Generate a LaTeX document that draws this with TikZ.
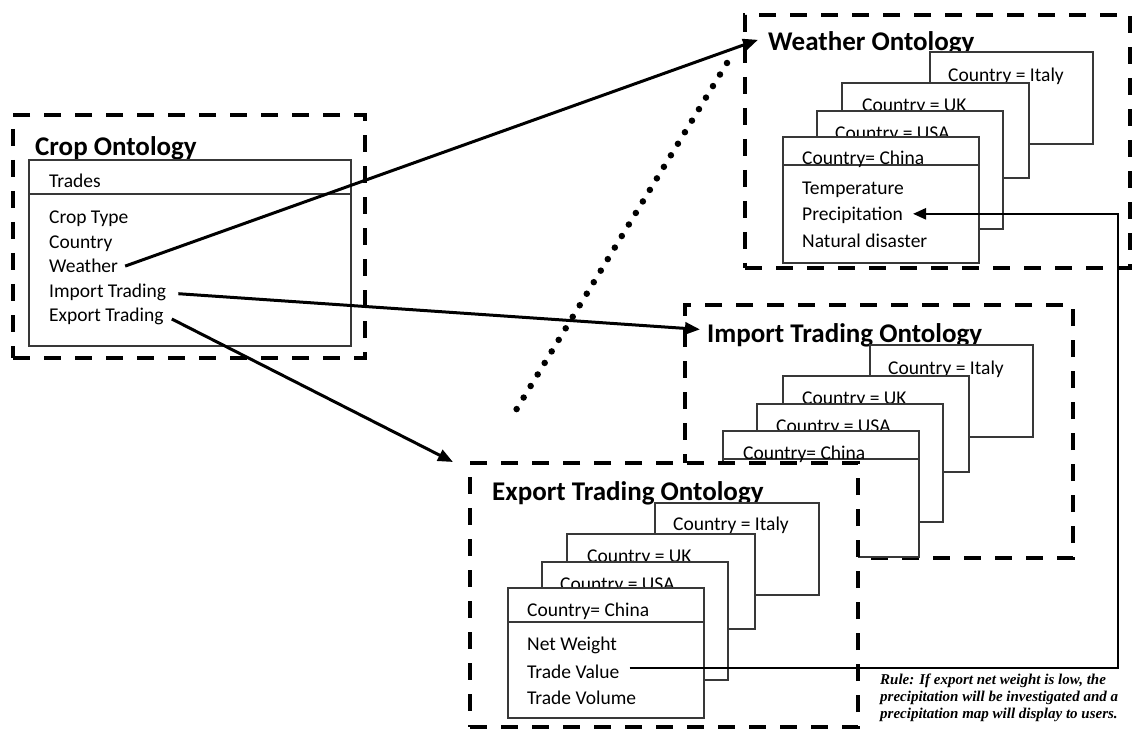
\documentclass[tikz,border=0pt]{standalone}
\usepackage{fontspec}
\setmainfont{Carlito}
\newfontfamily\rulefont{Liberation Serif}
\usetikzlibrary{arrows.meta}

\begin{document}
\begin{tikzpicture}[x=1pt,y=-1pt,
  dashbox/.style={draw, line width=4pt, dash pattern=on 17pt off 14pt,
    inner sep=0, outer sep=0, anchor=north west},
  card/.style={draw=black!78, fill=white, line width=1.2pt,
    inner sep=0, outer sep=0, anchor=north west},
  divider/.style={draw=black!78, line width=1.2pt},
  txt/.style={anchor=base west, inner sep=0, font=\fontsize{19.5}{24}\selectfont},
  ttl/.style={anchor=base west, inner sep=0, font=\fontsize{27}{32}\selectfont\bfseries},
  link/.style={line width=3pt, -{Triangle[length=15pt,width=12pt]}},
  conn/.style={line width=2.5pt, line join=miter, -{Triangle[length=13pt,width=11pt]}},
  dots/.style={line width=6.5pt, line cap=round, dash pattern=on 0pt off 13.5pt}
]
\useasboundingbox (0,0) rectangle (1133,730);

% ---------- Crop ontology ----------
\node[dashbox, minimum width=352, minimum height=243] (cbox) at (13,115) {};
\node[ttl] (ctitle) at (35,156) {Crop Ontology};
\node[card, minimum width=322, minimum height=186] (ccls) at (29,160) {};
\draw[divider] (ccls.west |- 0,194) -- (ccls.east |- 0,194);
\node[txt] (ctrades) at (49,187.5) {Trades};
\node[txt] (ctype) at (49,224) {Crop Type};
\node[txt] (ccountry) at (49,248.4) {Country};
\node[txt] (cweather) at (49,272.8) {Weather};
\node[txt] (cimport) at (49,297.2) {Import Trading};
\node[txt] (cexport) at (49,321.6) {Export Trading};

% ---------- Weather ontology ----------
\node[dashbox, minimum width=385, minimum height=253] (wbox) at (745,15) {};
\node[ttl] (wtitle) at (768,51) {Weather Ontology};
\node[card, minimum width=163, minimum height=92] (wit) at (930,52) {};
\node[txt] (witt) at (948,82) {Country = Italy};
\node[card, minimum width=187, minimum height=95] (wuk) at (842,83) {};
\node[txt] (wukt) at (862,112) {Country = UK};
\node[card, minimum width=186, minimum height=118] (wus) at (817,111) {};
\node[txt] (wust) at (835,140) {Country = USA};
\node[card, minimum width=196, minimum height=126] (wch) at (783,137) {};
\draw[divider] (wch.west |- 0,165) -- (wch.east |- 0,165);
\node[txt] (wcht) at (802,164.5) {Country= China};
\node[txt] (wtemp) at (802,195) {Temperature};
\node[txt] (wprec) at (802,221) {Precipitation};
\node[txt] (wdis) at (802,248) {Natural disaster};

% ---------- Import trading ontology ----------
\node[dashbox, minimum width=388, minimum height=253] (ibox) at (685,305) {};
\node[ttl] (ititle) at (707,342.6) {Import Trading Ontology};
\node[card, minimum width=163, minimum height=92] (iit) at (870,345) {};
\node[txt] (iitt) at (888,374) {Country = Italy};
\node[card, minimum width=186, minimum height=96] (iuk) at (783,376) {};
\node[txt] (iukt) at (802,404) {Country = UK};
\node[card, minimum width=186, minimum height=118] (ius) at (757,404) {};
\node[txt] (iust) at (776,432.5) {Country = USA};
\node[card, minimum width=196, minimum height=126] (ich) at (723,431) {};
\draw[divider] (ich.west |- 0,459) -- (ich.east |- 0,459);
\node[txt] (icht) at (743,459) {Country= China};

% ---------- Export trading ontology ----------
\node[dashbox, fill=white, minimum width=388, minimum height=264] (ebox) at (470,463) {};
\node[ttl] (etitle) at (492,500.5) {Export Trading Ontology};
\node[card, minimum width=164, minimum height=92] (eit) at (655,503) {};
\node[txt] (eitt) at (673,530.5) {Country = Italy};
\node[card, minimum width=188, minimum height=95] (euk) at (567,534) {};
\node[txt] (eukt) at (587,562) {Country = UK};
\node[card, minimum width=186, minimum height=118] (eus) at (542,562) {};
\node[txt] (eust) at (560,590) {Country = USA};
\node[card, minimum width=196, minimum height=130] (ech) at (508,588) {};
\draw[divider] (ech.west |- 0,622) -- (ech.east |- 0,622);
\node[txt] (echt) at (527,616.5) {Country= China};
\node[txt] (enet) at (527,650.5) {Net Weight};
\node[txt] (tval) at (527,678.5) {Trade Value};
\node[txt] (evol) at (527,704) {Trade Volume};

% ---------- Rule note ----------
\node[anchor=north west, inner sep=0, align=left,
      font=\rulefont\bfseries\itshape\fontsize{15}{17}\selectfont] (rule) at (880,674)
  {Rule: If export net weight is low, the\\
   precipitation will be investigated and a\\
   precipitation map will display to users.};

% ---------- Links ----------
\draw[dots] ([xshift=-18,yshift=-48]wbox.north west) -- ([xshift=40,yshift=43]ebox.north west);
\draw[link] ([xshift=7]cweather.east) -- ([xshift=-10,yshift=4]wtitle.west);
\draw[link] ([xshift=12,yshift=-1.6]cimport.east) -- ([xshift=-7,yshift=6]ititle.west);
\draw[link] ([xshift=8,yshift=-2.5]cexport.east) -- ([xshift=-17,yshift=1]ebox.north west);

\coordinate (pout) at ([xshift=10,yshift=4]tval.east);
\coordinate (pin) at ([xshift=10,yshift=2]wprec.east);
\coordinate (rrail) at (1118,0);
\draw[conn] (pout) -| (rrail |- pin) -- (pin);
\end{tikzpicture}
\end{document}
